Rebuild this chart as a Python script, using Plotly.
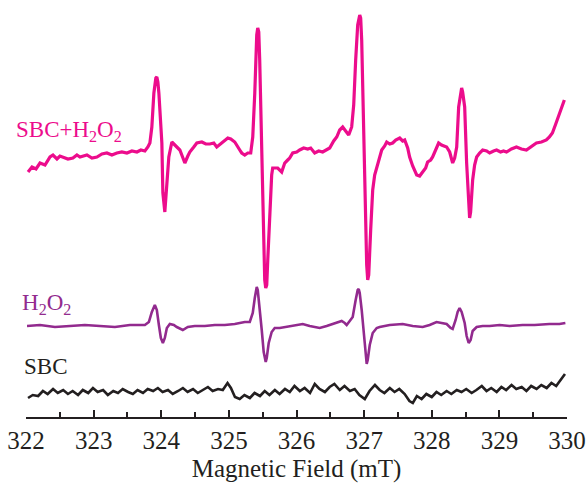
import plotly.graph_objects as go

# ---------------- data (magnetic field in mT, intensity in arbitrary units) ----------------
sbc_h2o2_field = [322.030, 322.089, 322.148, 322.207, 322.281, 322.355, 322.399, 322.458, 322.502, 322.547,
                  322.620, 322.694, 322.753, 322.798, 322.901, 322.975, 323.049, 323.123, 323.196, 323.270,
                  323.344, 323.418, 323.492, 323.566, 323.640, 323.699, 323.758, 323.802, 323.832, 323.861,
                  323.891, 323.920, 323.935, 323.950, 323.965, 324.009, 324.024, 324.053, 324.083, 324.112,
                  324.157, 324.186, 324.230, 324.275, 324.304, 324.349, 324.393, 324.422, 324.481, 324.526,
                  324.600, 324.659, 324.718, 324.777, 324.821, 324.895, 324.939, 324.984, 325.028, 325.087,
                  325.161, 325.190, 325.235, 325.279, 325.323, 325.353, 325.383, 325.397, 325.412, 325.427,
                  325.442, 325.456, 325.486, 325.515, 325.530, 325.545, 325.560, 325.575, 325.604, 325.633,
                  325.648, 325.722, 325.781, 325.826, 325.870, 325.899, 325.944, 326.003, 326.047, 326.106,
                  326.166, 326.210, 326.269, 326.328, 326.387, 326.447, 326.491, 326.550, 326.595, 326.639,
                  326.683, 326.727, 326.772, 326.816, 326.846, 326.875, 326.905, 326.935, 326.949, 326.964,
                  326.994, 327.023, 327.038, 327.053, 327.068, 327.097, 327.127, 327.156, 327.186, 327.230,
                  327.260, 327.304, 327.334, 327.378, 327.422, 327.467, 327.526, 327.570, 327.600, 327.644,
                  327.673, 327.718, 327.777, 327.821, 327.866, 327.910, 327.939, 327.984, 328.013, 328.058,
                  328.102, 328.145, 328.220, 328.265, 328.309, 328.339, 328.369, 328.398, 328.427, 328.442,
                  328.457, 328.487, 328.516, 328.546, 328.560, 328.575, 328.605, 328.634, 328.664, 328.708,
                  328.753, 328.812, 328.856, 328.915, 328.959, 329.018, 329.061, 329.105, 329.178, 329.252,
                  329.326, 329.400, 329.474, 329.548, 329.622, 329.695, 329.740, 329.784, 329.828, 329.888,
                  329.932, 329.961]
sbc_h2o2_signal = [-15, -10, -12, -6, -8, 0, 2, -2, 1, 0,
                   -2, -1, 2, 0, 2, -1, 0, 3, 4, 2,
                   4, 5, 4, 6, 5, 7, 6, 10, 14, 30,
                   64, 79, 80, 75, 64, 14, -36, -55, -30, 0,
                   15, 13, 9, 7, 2, -6, 1, 5, 10, 14,
                   15, 13, 13, 14, 10, 14, 17, 19, 18, 15,
                   7, 4, 2, 4, 4, 20, 64, 97, 122, 129,
                   125, 97, 7, -83, -123, -131, -128, -103, -53, -18,
                   -11, -11, -15, -6, -3, -1, 4, 5, 7, 9,
                   8, 9, 4, 6, 5, 7, 9, 16, 20, 27,
                   30, 26, 22, 30, 52, 97, 132, 142, 139, 117,
                   27, -73, -108, -123, -118, -73, -33, -18, -10, -1,
                   7, 11, 15, 13, 14, 17, 19, 16, 17, 9,
                   0, -9, -18, -19, -15, -11, -5, -3, 0, 7,
                   14, 12, 10, 5, -6, -1, 10, 50, 67, 69,
                   65, 50, -6, -48, -61, -55, -23, -8, 0, 4,
                   7, 6, 4, 6, 7, 5, 6, 5, 8, 10,
                   8, 7, 11, 14, 15, 17, 20, 24, 32, 44,
                   52, 57]

h2o2_field = [322.015, 322.207, 322.428, 322.650, 322.871, 323.093, 323.315, 323.536, 323.758, 323.817,
              323.861, 323.905, 323.935, 323.965, 323.994, 324.024, 324.053, 324.083, 324.127, 324.186,
              324.230, 324.319, 324.393, 324.496, 324.644, 324.792, 324.939, 325.087, 325.235, 325.309,
              325.353, 325.383, 325.412, 325.427, 325.456, 325.486, 325.515, 325.545, 325.560, 325.589,
              325.633, 325.678, 325.752, 325.855, 326.003, 326.092, 326.195, 326.343, 326.446, 326.535,
              326.609, 326.668, 326.713, 326.742, 326.787, 326.831, 326.875, 326.905, 326.920, 326.935,
              326.964, 326.994, 327.023, 327.038, 327.053, 327.083, 327.127, 327.186, 327.230, 327.378,
              327.570, 327.718, 327.866, 327.969, 328.071, 328.160, 328.220, 328.279, 328.309, 328.353,
              328.383, 328.412, 328.442, 328.487, 328.516, 328.546, 328.575, 328.605, 328.664, 328.753,
              328.856, 329.004, 329.151, 329.343, 329.521, 329.740, 329.888, 329.976]
h2o2_signal = [0, 1, -1, 0, 1, 0, -1, 1, 1, 4,
               14, 21, 16, 1, -12, -17, -12, -2, 2, 1,
               -1, -4, -1, 0, 0, 1, 1, 2, 4, 4,
               13, 28, 39, 36, 19, -4, -26, -36, -32, -17,
               -6, -2, -2, -1, 1, 2, 0, -2, 0, 2,
               4, 5, 3, 1, 5, 9, 26, 36, 37, 33,
               16, -9, -32, -38, -34, -19, -7, -2, -1, 1,
               2, 0, -1, 1, 4, 3, 2, -2, -3, 6,
               14, 18, 14, 3, -10, -17, -14, -5, -1, 0,
               0, 1, 0, 1, 1, 2, 2, 3]

sbc_field = [322.03, 322.10, 322.18, 322.25, 322.32, 322.40, 322.47, 322.55, 322.62, 322.69,
             322.77, 322.84, 322.92, 322.99, 323.06, 323.14, 323.21, 323.29, 323.36, 323.43,
             323.51, 323.58, 323.65, 323.73, 323.80, 323.88, 323.95, 324.02, 324.10, 324.17,
             324.25, 324.32, 324.39, 324.47, 324.54, 324.61, 324.69, 324.76, 324.84, 324.91,
             324.98, 325.03, 325.09, 325.16, 325.23, 325.31, 325.38, 325.46, 325.53, 325.60,
             325.68, 325.75, 325.83, 325.90, 325.97, 326.05, 326.12, 326.20, 326.27, 326.34,
             326.42, 326.49, 326.56, 326.64, 326.71, 326.79, 326.86, 326.93, 327.01, 327.08,
             327.16, 327.23, 327.30, 327.38, 327.45, 327.52, 327.60, 327.67, 327.72, 327.78,
             327.85, 327.92, 328.00, 328.07, 328.14, 328.22, 328.29, 328.37, 328.44, 328.51,
             328.59, 328.66, 328.74, 328.81, 328.88, 328.96, 329.03, 329.10, 329.18, 329.25,
             329.33, 329.40, 329.47, 329.55, 329.62, 329.70, 329.77, 329.84, 329.90, 329.94,
             329.97]
sbc_signal = [-6, -3, -4, 1, -2, 3, -1, 2, -2, 1,
              -3, 2, -1, 4, 0, 2, -3, 1, -1, 3,
              0, -2, 2, -1, 3, 1, 4, 0, 2, -2,
              1, 4, 0, 3, -1, 2, 5, 1, 3, 2,
              9, 4, -5, -7, -3, -6, -1, -4, 1, -3,
              2, -2, 3, 0, 6, 1, 4, -1, 8, 3,
              0, 5, 8, 2, 6, 1, 3, -3, -7, 1,
              7, 2, -1, 4, 0, 3, -2, -9, -11, -4,
              -7, -2, -5, 0, -3, 1, -2, 2, 0, 3,
              -1, 2, 6, 1, 4, 0, 5, 2, 7, 3,
              5, 1, 6, 3, 7, 4, 9, 6, 12, 16,
              18]

trace_names = ["SBC+H<sub>2</sub>O<sub>2</sub>", "H<sub>2</sub>O<sub>2</sub>", "SBC"]
trace_offsets = [260, 91, 25]
trace_colors = ["#EC0C8C", "#922A8E", "#231F20"]
trace_widths = [3.2, 2.6, 2.6]
label_pos = [(-0.022, 0.685), (-0.011, 0.272), (-0.007, 0.120)]

x_ticks = [322, 323, 324, 325, 326, 327, 328, 329, 330]

# ---------------- figure ----------------
fig = go.Figure()
series = [(sbc_h2o2_field, sbc_h2o2_signal), (h2o2_field, h2o2_signal), (sbc_field, sbc_signal)]
for (fx, sy), off, col, w in zip(series, trace_offsets, trace_colors, trace_widths):
    fig.add_trace(go.Scatter(x=fx, y=[v + off for v in sy], mode="lines",
                             line=dict(color=col, width=w), showlegend=False,
                             hoverinfo="skip"))

for name, col, (ax, ay) in zip(trace_names, trace_colors, label_pos):
    fig.add_annotation(text=name, xref="paper", yref="paper", x=ax, y=ay,
                       xanchor="left", yanchor="middle", showarrow=False,
                       font=dict(family="Liberation Serif", size=23, color=col))

fig.update_layout(
    width=587, height=483,
    margin=dict(l=26, r=20, t=0, b=66),
    plot_bgcolor="white", paper_bgcolor="white",
    xaxis=dict(range=[322, 330], tickvals=x_ticks, ticktext=[str(t) for t in x_ticks],
               showline=True, linecolor="#231F20", linewidth=1.6, mirror=False,
               ticks="inside", ticklen=7, tickwidth=1.5, tickcolor="#231F20",
               minor=dict(dtick=0.5, ticks="inside", ticklen=5, tickwidth=1.5, tickcolor="#231F20"),
               showgrid=False, zeroline=False,
               tickfont=dict(family="Liberation Serif", size=25, color="#231F20"),
               title=dict(text="Magnetic Field (mT)", standoff=9,
                          font=dict(family="Liberation Serif", size=25, color="#231F20"))),
    yaxis=dict(range=[0, 417], visible=False, showgrid=False, zeroline=False),
)

fig.write_html("out.html", config={"displayModeBar": False},
               post_script="document.body.style.margin='0';document.body.style.overflow='hidden';")
